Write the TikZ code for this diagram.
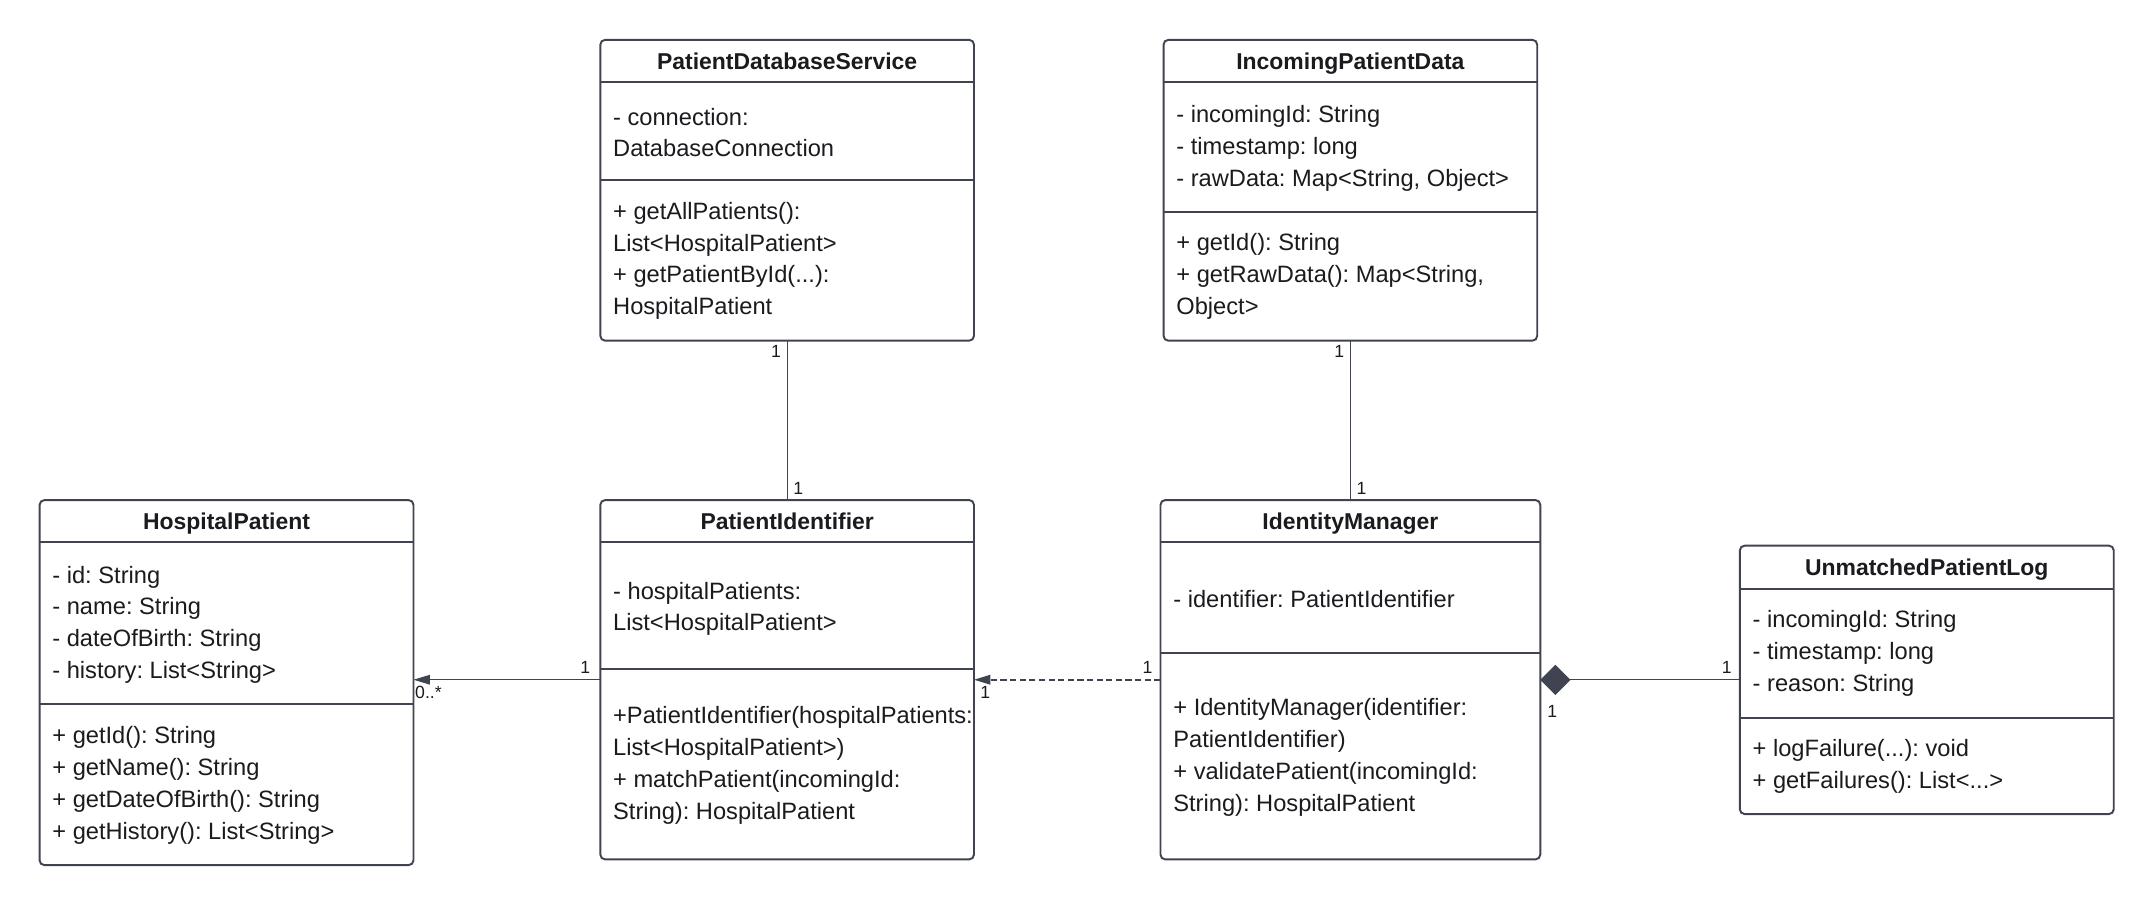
\documentclass[tikz,border=0pt]{standalone}
\usepackage{fontspec}
\setmainfont{Liberation Sans}
\usepackage{xcolor}
\usepackage{tikz}
\usetikzlibrary{arrows.meta,positioning,calc}
\frenchspacing

\definecolor{umlline}{HTML}{3F4450}
\definecolor{umltext}{HTML}{1B1B1F}

\begin{document}
\begin{tikzpicture}[x=0.2mm,y=-0.2mm,>={Triangle[length=2.4mm,width=1.4mm]},
  classbox/.style={draw=umlline,line width=0.8pt,rounded corners=0.7mm,fill=white,inner sep=0pt,outer sep=0pt},
  classname/.style={font=\fontsize{9.5}{11}\selectfont\bfseries,text=umltext,inner sep=0pt,text height=6.8pt,text depth=0pt},
  members/.style={anchor=west,align=left,inner sep=0pt,text=umltext,font=\fontsize{9.8}{13.2}\selectfont},
  sepline/.style={draw=umlline,line width=0.8pt},
  mult/.style={font=\fontsize{7.3}{8}\selectfont,text=umltext,inner sep=2.3pt},
  assoc/.style={draw=umlline,line width=0.5pt}]

  \useasboundingbox (0,0) rectangle (1568,659);

  % HospitalPatient
  \node[classbox,minimum width=54.44mm,minimum height=53.14mm] (hp) at (164.9,496.9) {};
  \node[classname] (hptitle) at (164.9,379.4) {HospitalPatient};
  \draw[sepline] (hp.west |- 0,394.8) -- (hp.east |- 0,394.8);
  \draw[sepline] (hp.west |- 0,512.5) -- (hp.east |- 0,512.5);
  \node[members] (hpattr) at (37.8,454.8) {- id: String\\- name: String\\- dateOfBirth: String\\- history: List<String>};
  \node[members] (hpops) at (37.8,571.9) {+ getId(): String\\+ getName(): String\\+ getDateOfBirth(): String\\+ getHistory(): List<String>};

  % PatientDatabaseService
  \node[classbox,minimum width=54.4mm,minimum height=43.8mm] (pds) at (573,138.5) {};
  \node[classname] (pdstitle) at (573,44.5) {PatientDatabaseService};
  \draw[sepline] (pds.west |- 0,59.9) -- (pds.east |- 0,59.9);
  \draw[sepline] (pds.west |- 0,130.8) -- (pds.east |- 0,130.8);
  \node[members] (pdsattr) at (446,96.5) {- connection:\\DatabaseConnection};
  \node[members] (pdsops) at (446,189.9) {+ getAllPatients():\\List<HospitalPatient>\\+ getPatientById(...):\\HospitalPatient};

  % IncomingPatientData
  \node[classbox,minimum width=54.4mm,minimum height=43.8mm] (ipd) at (983,138.5) {};
  \node[classname] (ipdtitle) at (983,44.5) {IncomingPatientData};
  \draw[sepline] (ipd.west |- 0,59.9) -- (ipd.east |- 0,59.9);
  \draw[sepline] (ipd.west |- 0,154.1) -- (ipd.east |- 0,154.1);
  \node[members] (ipdattr) at (856,108.2) {- incomingId: String\\- timestamp: long\\- rawData: Map<String, Object>};
  \node[members] (ipdops) at (856,201.4) {+ getId(): String\\+ getRawData(): Map<String,\\Object>};

  % PatientIdentifier
  \node[classbox,minimum width=54.4mm,minimum height=52.32mm] (pi) at (573,494.8) {};
  \node[classname] (pititle) at (573,379.4) {PatientIdentifier};
  \draw[sepline] (pi.west |- 0,394.8) -- (pi.east |- 0,394.8);
  \draw[sepline] (pi.west |- 0,486.8) -- (pi.east |- 0,486.8);
  \node[members] (piattr) at (446,443.2) {- hospitalPatients:\\List<HospitalPatient>};
  \node[members] (piops) at (446,557.2) {+PatientIdentifier(hospitalPatients:\\List<HospitalPatient>)\\+ matchPatient(incomingId:\\String): HospitalPatient};

  % IdentityManager
  \node[classbox,minimum width=55.3mm,minimum height=52.32mm] (im) at (983,494.8) {};
  \node[classname] (imtitle) at (983,379.4) {IdentityManager};
  \draw[sepline] (im.west |- 0,394.8) -- (im.east |- 0,394.8);
  \draw[sepline] (im.west |- 0,475.4) -- (im.east |- 0,475.4);
  \node[members] (imattr) at (853.8,436) {- identifier: PatientIdentifier};
  \node[members] (imops) at (853.8,551.5) {+ IdentityManager(identifier:\\PatientIdentifier)\\+ validatePatient(incomingId:\\String): HospitalPatient};

  % UnmatchedPatientLog
  \node[classbox,minimum width=54.44mm,minimum height=39.08mm] (upl) at (1402.6,494.9) {};
  \node[classname] (upltitle) at (1402.6,413) {UnmatchedPatientLog};
  \draw[sepline] (upl.west |- 0,428.8) -- (upl.east |- 0,428.8);
  \draw[sepline] (upl.west |- 0,522.4) -- (upl.east |- 0,522.4);
  \node[members] (uplattr) at (1275.5,475.8) {- incomingId: String\\- timestamp: long\\- reason: String};
  \node[members] (uplops) at (1275.5,558.1) {+ logFailure(...): void\\+ getFailures(): List<...>};

  % relations
  \draw[assoc] (pds.south) -- node[mult,pos=0.07,left]{1} node[mult,pos=0.93,right]{1} (pi.north);
  \draw[assoc] (ipd.south) -- node[mult,pos=0.07,left]{1} node[mult,pos=0.93,right]{1} (im.north);
  \draw[assoc,->] (pi.west) -- node[mult,pos=0.08,above]{1} node[mult,pos=0.92,below]{0..*} (pi.west -| hp.east);
  \draw[assoc,->,line width=0.7pt,dash pattern=on 0.9mm off 0.5mm] (im.west) -- node[mult,pos=0.07,above]{1} node[mult,pos=0.94,below]{1} (pi.east);
  \draw[assoc,-{Diamond[length=4.4mm,width=4.4mm]}] (upl.west) -- node[mult,pos=0.066,above]{1} node[mult,pos=0.94,below,yshift=-2.8mm]{1} (upl.west -| im.east);
\end{tikzpicture}
\end{document}
